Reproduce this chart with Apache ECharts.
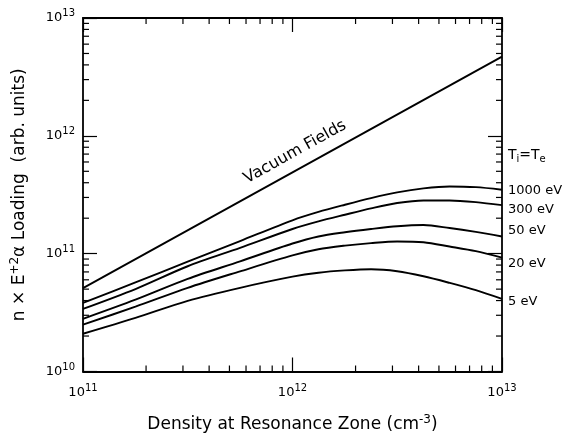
<!DOCTYPE html>
<html>
<head>
<meta charset="utf-8">
<script src="https://cdn.jsdelivr.net/npm/echarts@6/dist/echarts.min.js"></script>
<style>
html,body{margin:0;padding:0;background:#fff;}
#chart{width:568px;height:438px;}
</style>
</head>
<body>
<div id="chart"></div>
<script>
// Density at resonance zone (cm^-3)
const densities = [1e11, 1.78e11, 3.16e11, 5.62e11, 1e12, 1.33e12, 1.78e12, 2.37e12, 3.16e12, 4.22e12, 5.62e12, 7.50e12, 1e13];
// Loading (arb. units) for each temperature (Ti = Te)
const load1000eV = [3.82e10, 5.71e10, 8.55e10, 1.28e11, 1.92e11, 2.26e11, 2.60e11, 2.96e11, 3.31e11, 3.58e11, 3.72e11, 3.67e11, 3.49e11];
const load300eV  = [3.40e10, 5.01e10, 7.82e10, 1.12e11, 1.62e11, 1.88e11, 2.14e11, 2.42e11, 2.69e11, 2.83e11, 2.83e11, 2.74e11, 2.58e11];
const load50eV   = [2.80e10, 4.07e10, 6.11e10, 8.61e10, 1.22e11, 1.40e11, 1.52e11, 1.62e11, 1.71e11, 1.75e11, 1.65e11, 1.53e11, 1.40e11];
const load20eV   = [2.50e10, 3.55e10, 5.13e10, 7.08e10, 9.66e10, 1.09e11, 1.17e11, 1.23e11, 1.27e11, 1.25e11, 1.15e11, 1.05e11, 9.25e10];
const load5eV    = [2.09e10, 2.85e10, 3.98e10, 5.13e10, 6.38e10, 6.89e10, 7.21e10, 7.38e10, 7.10e10, 6.43e10, 5.65e10, 4.90e10, 4.13e10];
// Vacuum fields (straight line)
const vacuumX = [1e11, 1e13];
const vacuumY = [5.1e10, 4.7e12];
const tempNames = ['1000 eV', '300 eV', '50 eV', '20 eV', '5 eV'];
// minor tick values
const xMinor = [2e11,3e11,4e11,5e11,6e11,7e11,8e11,9e11,2e12,3e12,4e12,5e12,6e12,7e12,8e12,9e12];
const yMinor = [2e10,3e10,4e10,5e10,6e10,7e10,8e10,9e10,2e11,3e11,4e11,5e11,6e11,7e11,8e11,9e11,2e12,3e12,4e12,5e12,6e12,7e12,8e12,9e12];

const FONT = 'DejaVu Sans';
const chart = echarts.init(document.getElementById('chart'));
const zip = (xs, ys) => xs.map((x, i) => [x, ys[i]]);
const tempSeries = [load1000eV, load300eV, load50eV, load20eV, load5eV];
const labelOffsets = [[0, 1], [0, 4], [0, -6], [0, 6], [0, 3]];

const expLabel = v => '{b|10}{s|' + Math.round(Math.log10(v)) + '}';
const tickRich = {
  b: {fontFamily: FONT, fontSize: 13, color: '#000'},
  s: {fontFamily: FONT, fontSize: 10, color: '#000', padding: [0, 0, 9, 0]}
};
const lineStyle = {color: '#000', width: 1.9};

function minorRender(isX) {
  return function (params, api) {
    const v = api.value(isX ? 0 : 1);
    const len = 6;
    let a, b, children;
    if (isX) {
      a = api.coord([v, 1e10]); b = api.coord([v, 1e13]);
      children = [
        {type: 'line', shape: {x1: a[0], y1: a[1], x2: a[0], y2: a[1] - len}, style: {stroke: '#000', lineWidth: 1.2}},
        {type: 'line', shape: {x1: b[0], y1: b[1], x2: b[0], y2: b[1] + len}, style: {stroke: '#000', lineWidth: 1.2}}
      ];
    } else {
      a = api.coord([1e11, v]); b = api.coord([1e13, v]);
      children = [
        {type: 'line', shape: {x1: a[0], y1: a[1], x2: a[0] + len, y2: a[1]}, style: {stroke: '#000', lineWidth: 1.2}},
        {type: 'line', shape: {x1: b[0], y1: b[1], x2: b[0] - len, y2: b[1]}, style: {stroke: '#000', lineWidth: 1.2}}
      ];
    }
    return {type: 'group', children: children};
  };
}

const series = tempSeries.map((arr, i) => ({
  name: tempNames[i],
  type: 'line',
  data: zip(densities, arr),
  smooth: 0.3,
  showSymbol: false,
  lineStyle: lineStyle,
  endLabel: {
    show: true,
    formatter: '{a}',
    fontFamily: FONT,
    fontSize: 13,
    color: '#000',
    distance: 6,
    offset: labelOffsets[i]
  },
  silent: true
}));
series.push({
  name: 'Vacuum Fields',
  type: 'line',
  data: zip(vacuumX, vacuumY),
  showSymbol: false,
  lineStyle: lineStyle,
  silent: true
});
series.push({
  type: 'custom', xAxisIndex: 0, yAxisIndex: 0, clip: false, silent: true,
  data: xMinor.map(v => [v, 1e10]), renderItem: minorRender(true), z: 5
});
series.push({
  type: 'custom', xAxisIndex: 0, yAxisIndex: 0, clip: false, silent: true,
  data: yMinor.map(v => [1e11, v]), renderItem: minorRender(false), z: 5
});

const axisLine = {show: true, lineStyle: {color: '#000', width: 1.8}};
const majorTick = {show: true, inside: true, length: 14, lineStyle: {color: '#000', width: 1.2}};
const titleRich = {
  t: {fontFamily: FONT, fontSize: 17, color: '#000'},
  s: {fontFamily: FONT, fontSize: 12, color: '#000', padding: [0, 0, 10, 0]}
};

chart.setOption({
  backgroundColor: '#fff',
  animation: false,
  grid: {left: 83, right: 66, top: 18, bottom: 66, containLabel: false},
  xAxis: [{
    type: 'log', logBase: 10, min: 1e11, max: 1e13, position: 'bottom',
    axisLine: axisLine, axisTick: majorTick, splitLine: {show: false},
    axisLabel: {formatter: expLabel, rich: tickRich, margin: 12},
    name: '{t|Density at Resonance Zone (cm}{s|-3}{t|)}',
    nameLocation: 'middle', nameGap: 42,
    nameTextStyle: {rich: titleRich}
  }, {
    type: 'log', logBase: 10, min: 1e11, max: 1e13, position: 'top',
    axisLine: axisLine, axisTick: majorTick, splitLine: {show: false},
    axisLabel: {show: false}
  }],
  yAxis: [{
    type: 'log', logBase: 10, min: 1e10, max: 1e13, position: 'left',
    axisLine: axisLine, axisTick: majorTick, splitLine: {show: false},
    axisLabel: {formatter: expLabel, rich: tickRich, margin: 8},
    name: '{t|n × E}{s|+2}{t|α Loading  (arb. units)}',
    nameLocation: 'middle', nameGap: 52, nameRotate: 90,
    nameTextStyle: {rich: titleRich}
  }, {
    type: 'log', logBase: 10, min: 1e10, max: 1e13, position: 'right',
    axisLine: axisLine, axisTick: majorTick, splitLine: {show: false},
    axisLabel: {show: false}
  }],
  graphic: [{
    type: 'text', x: 295, y: 152, rotation: 29 * Math.PI / 180,
    style: {text: 'Vacuum Fields', font: '16px "' + FONT + '"', fill: '#000', align: 'center', verticalAlign: 'middle'}
  }, {
    type: 'text', x: 508, y: 155,
    style: {
      text: '{t|T}{u|i}{t|=T}{u|e}', fill: '#000', align: 'left', verticalAlign: 'middle',
      rich: {
        t: {fontFamily: FONT, fontSize: 14, color: '#000'},
        u: {fontFamily: FONT, fontSize: 10, color: '#000', padding: [8, 0, 0, 0]}
      }
    }
  }],
  series: series
});
</script>
</body>
</html>
